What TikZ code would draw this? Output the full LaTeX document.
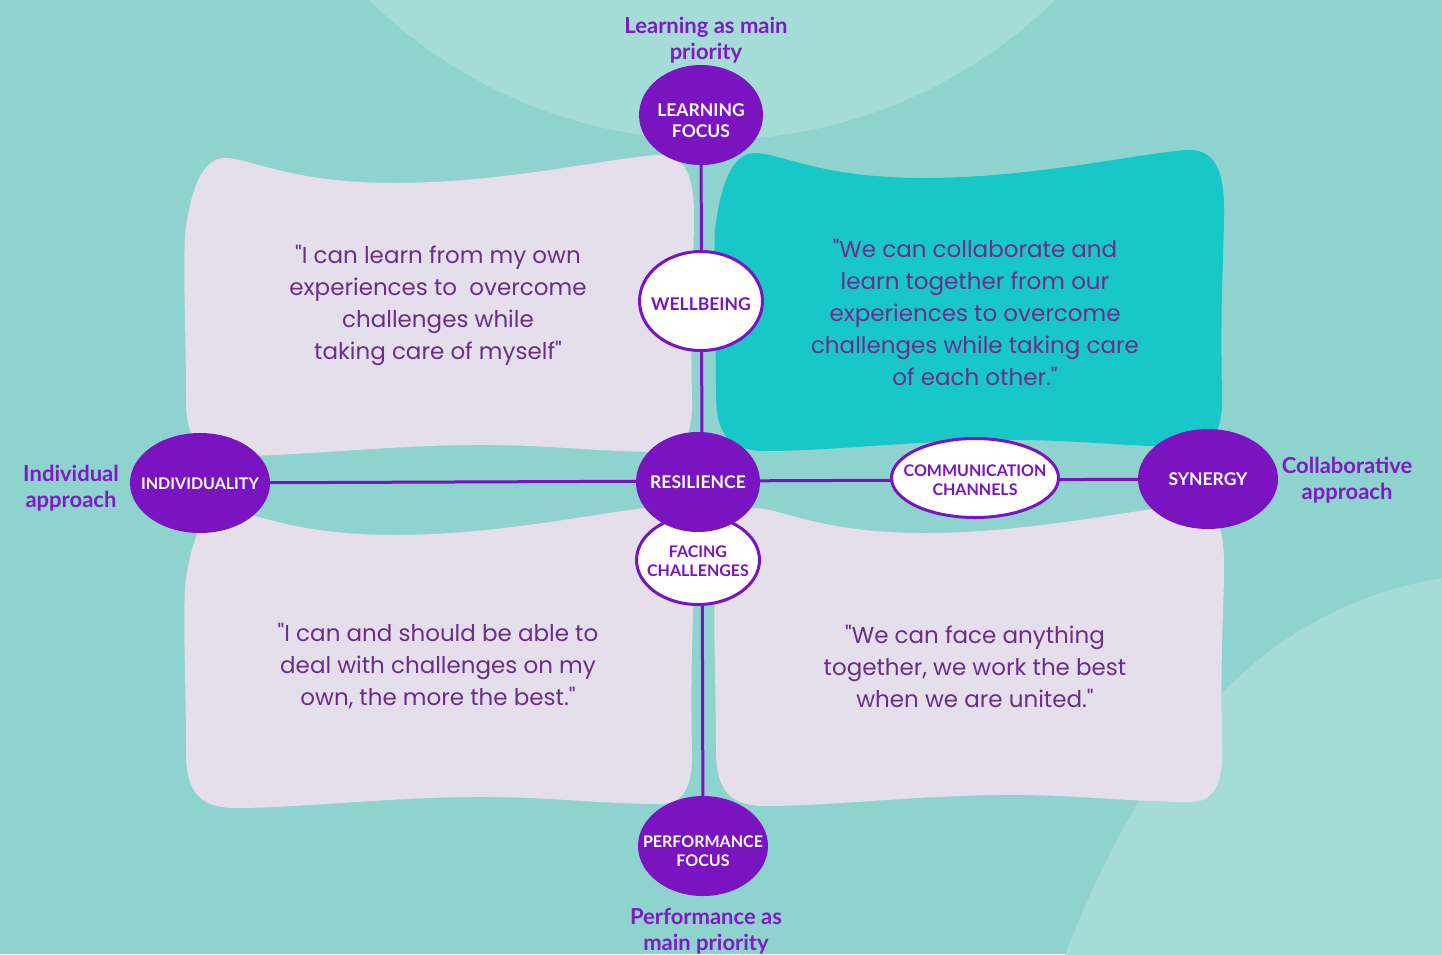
\documentclass[tikz,border=0pt]{standalone}
\usepackage{fontspec}
\setmainfont{Lato}
\newfontfamily\qfont{Poppins}
\usetikzlibrary{shapes.geometric}
\definecolor{bgc}{HTML}{8FD3CE}
\definecolor{lightc}{HTML}{A5DCD8}
\definecolor{lav}{HTML}{E4DFEB}
\definecolor{tealbox}{HTML}{18C8C8}
\definecolor{pur}{HTML}{7A14C1}
\definecolor{labc}{HTML}{7F1AC6}
\definecolor{quotec}{HTML}{6B2D8B}
\pgfdeclarelayer{back}
\pgfdeclarelayer{mid}
\pgfsetlayers{back,mid,main}
\newcommand\blobtext[2][0pt]{\raisebox{#1}[0pt][0pt]{\makebox[0pt]{\begin{tabular}{@{}c@{}}#2\end{tabular}}}}
\newcommand\cardshape{(185,235) .. controls (190,195) and (200,158) .. (225,158)
 .. controls (250,158) and (290,183) .. (394,183)
 .. controls (500,183) and (600,160) .. (655,155)
 .. controls (685,153) and (694,175) .. (694,215)
 .. controls (694,260) and (690,300) .. (692,400)
 .. controls (693,440) and (680,452) .. (660,452)
 .. controls (600,452) and (540,444) .. (470,445)
 .. controls (380,446) and (300,456) .. (235,456)
 .. controls (200,456) and (186,440) .. (186,400)
 .. controls (186,330) and (183,280) .. (185,235) -- cycle}
\tikzset{
  bigtext/.style={font=\bfseries\fontsize{17.5}{21}\selectfont},
  smalltext/.style={font=\bfseries\fontsize{16}{19.5}\selectfont},
  blobfill/.style={ellipse, fill=pur, text=white, inner sep=0pt},
  blobwhite/.style={ellipse, fill=white, draw=pur, line width=3pt, text=pur, inner sep=0pt},
  sidelabel/.style={text=labc, align=center, inner sep=0pt, font=\bfseries\fontsize{22}{25.5}\selectfont},
  quote/.style={text=quotec, align=center, inner sep=0pt, font=\qfont\fontsize{23}{32}\selectfont},
  axis/.style={draw=pur, line width=3pt}
}
\begin{document}
\begin{tikzpicture}[x=1pt,y=-1pt]
\useasboundingbox (0,0) rectangle (1442,954);
\begin{pgfonlayer}{back}
\clip (0,0) rectangle (1442,954);
\fill[bgc] (0,0) rectangle (1442,954);
\fill[lightc] (712,-350) circle (490pt);
\fill[lightc] (1063,960) .. controls (1140,760) and (1250,610) .. (1442,578) -- (1450,578) -- (1450,960) -- cycle;
\fill[lav] \cardshape;
\fill[tealbox, shift={(530,-5)}] \cardshape;
\fill[lav, shift={(0,352)}] \cardshape;
\fill[lav, shift={(530,350)}] \cardshape;
\end{pgfonlayer}

% quotes
\node[quote] (qtl) at (438,305) {"I can learn from my own\\experiences to\ \ overcome\\challenges while\\taking care of myself"};
\node[quote] (qtr) at (975,312) {"We can collaborate and\\learn together from our\\experiences to overcome\\challenges while taking care\\of each other."};
\node[quote] (qbl) at (438,666) {"I can and should be able to\\deal with challenges on my\\own, the more the best."};
\node[quote] (qbr) at (975,666) {"We can face anything\\together, we work the best\\when we are united."};

% nodes
\node[blobfill, bigtext, minimum width=124pt, minimum height=100pt] (lf) at (701,115) {\blobtext[-12.5pt]{LEARNING\\FOCUS}};
\node[blobwhite, bigtext, minimum width=123pt, minimum height=99pt] (wb) at (701,301) {\blobtext[-10pt]{WELLBEING}};
\node[blobwhite, smalltext, minimum width=123pt, minimum height=89pt] (fc) at (698,560) {\blobtext[-7.5pt]{FACING\\CHALLENGES}};
\node[blobfill, bigtext, minimum width=124pt, minimum height=100pt] (res) at (698,482) {\blobtext[-7pt]{RESILIENCE}};
\node[blobfill, smalltext, minimum width=140pt, minimum height=100pt] (ind) at (200,483) {\blobtext[-7pt]{INDIVIDUALITY}};
\node[blobwhite, smalltext, minimum width=167pt, minimum height=79pt] (cc) at (975,478) {\blobtext[-8.5pt]{COMMUNICATION\\CHANNELS}};
\node[blobfill, bigtext, minimum width=140pt, minimum height=100pt] (syn) at (1208,479) {\blobtext[-7pt]{SYNERGY}};
\node[blobfill, smalltext, minimum width=130pt, minimum height=100pt] (pf) at (703,846) {\blobtext[-11.5pt]{PERFORMANCE\\FOCUS}};

% axes
\begin{pgfonlayer}{mid}
\draw[axis] (lf) -- (pf);
\draw[axis] (ind) -- (syn);
\end{pgfonlayer}

% side labels
\node[sidelabel] (ltop) at (706,40) {Learning as main\\priority};
\node[sidelabel] (lleft) at (71,488) {Individual\\approach};
\node[sidelabel] (lright) at (1347,480) {Collaborative\\approach};
\node[sidelabel] (lbot) at (706,931) {Performance as\\main priority};
\end{tikzpicture}
\end{document}
